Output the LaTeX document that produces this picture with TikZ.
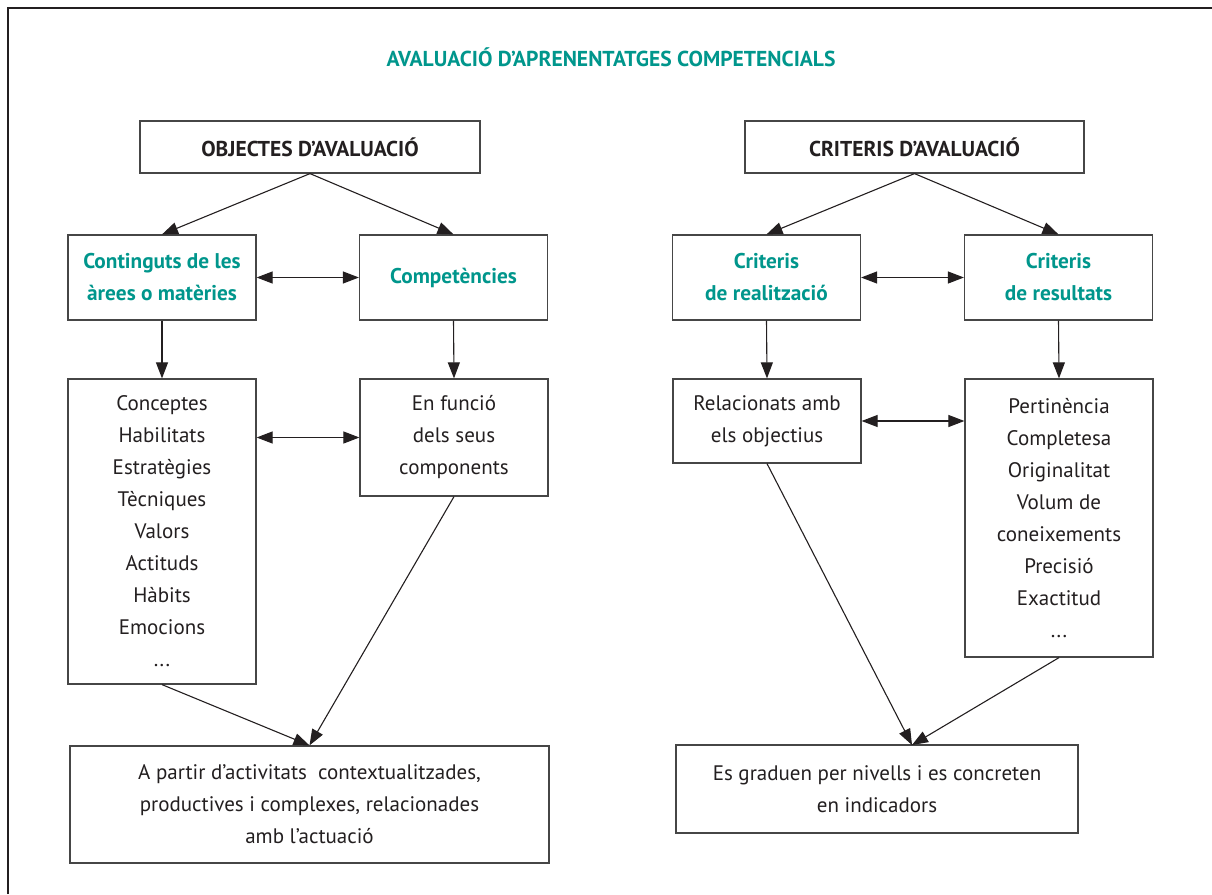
\documentclass[tikz,border=0pt]{standalone}
\usepackage{fontspec}
\setmainfont{PT Sans}
\usetikzlibrary{arrows.meta,calc}
\definecolor{teal1}{RGB}{0,150,140}
\definecolor{ink}{RGB}{35,31,32}
\definecolor{frame}{RGB}{70,70,70}
\begin{document}
\begin{tikzpicture}[x=1pt,y=-1pt,
  box/.style={draw=frame, line width=1.2pt, fill=white, inner sep=0pt, align=center,
    font=\fontsize{21}{32}\selectfont, text=ink},
  head/.style={box, font=\fontsize{21.5}{24}\selectfont\bfseries},
  sub/.style={box, font=\fontsize{21.3}{32}\selectfont\bfseries, text=teal1},
  arr/.style={-{Triangle[length=16pt,width=12pt]}, line width=1.1pt, draw=ink},
  darr/.style={{Triangle[length=16pt,width=12pt]}-{Triangle[length=16pt,width=12pt]}, line width=1.1pt, draw=ink}]
\useasboundingbox (0,0) rectangle (1212,894);
\draw[line width=1.5pt, draw=ink] (8,894) -- (8,8) -- (1212,8);

\node[font=\fontsize{21.6}{24}\selectfont\bfseries, text=teal1] (title) at (611,57) {AVALUACIÓ D’APRENENTATGES COMPETENCIALS};

\node[head, minimum width=340pt, minimum height=52pt] (obj) at (310,147) {OBJECTES D’AVALUACIÓ};
\node[head, minimum width=339pt, minimum height=52pt] (crit) at (914.5,147) {CRITERIS D’AVALUACIÓ};

\node[sub, minimum width=188pt, minimum height=85pt] (cont) at (162,277.5) {Continguts de les\\àrees o matèries};
\node[sub, minimum width=188pt, minimum height=85pt] (comp) at (453.5,277.5) {Competències};
\node[sub, minimum width=188pt, minimum height=85pt] (creal) at (766.5,277.5) {Criteris\\de realització};
\node[sub, minimum width=188pt, minimum height=85pt] (cres) at (1058.5,277.5) {Criteris\\de resultats};

\node[box, minimum width=188pt, minimum height=305pt] (llista) at (162,531.5)
  {Conceptes\\Habilitats\\Estratègies\\Tècniques\\Valors\\Actituds\\Hàbits\\Emocions\\...};
\node[box, minimum width=188pt, minimum height=117pt] (func) at (454,437.5)
  {En funció\\dels seus\\components};
\node[box, minimum width=188pt, minimum height=84pt] (rel) at (767,421)
  {Relacionats amb\\els objectius};
\node[box, minimum width=188pt, minimum height=278pt] (pert) at (1059,518)
  {Pertinència\\Completesa\\Originalitat\\Volum de\\coneixements\\Precisió\\Exactitud\\...};

\node[box, minimum width=479pt, minimum height=117pt] (apartir) at (309.5,804.5)
  {A partir d’activitats\ \ contextualitzades,\\productives i complexes, relacionades\\amb l’actuació};
\node[box, minimum width=402pt, minimum height=88pt] (grad) at (877,789)
  {Es graduen per nivells i es concreten\\en indicadors};

\coordinate (gradtip) at (912,745);

\draw[arr] (obj.south) -- (cont.north);
\draw[arr] (obj.south) -- (comp.north);
\draw[arr] (crit.south) -- (creal.north);
\draw[arr] (crit.south) -- (cres.north);
\draw[darr] (cont.east) -- (comp.west);
\draw[darr] (creal.east) -- (cres.west);
\draw[arr] (cont.south) -- (llista.north);
\draw[arr] (comp.south) -- (func.north);
\draw[arr] (creal.south) -- (rel.north);
\draw[arr] (cres.south) -- (pert.north);
\draw[darr] (func.west -| llista.east) -- (func.west);
\draw[darr] (rel.east) -- (rel.east -| pert.west);
\draw[arr] (llista.south) -- (apartir.north);
\draw[arr] (func.south) -- (apartir.north);
\draw[arr] (rel.south) -- (gradtip);
\draw[arr] (pert.south) -- (gradtip);
\end{tikzpicture}
\end{document}
